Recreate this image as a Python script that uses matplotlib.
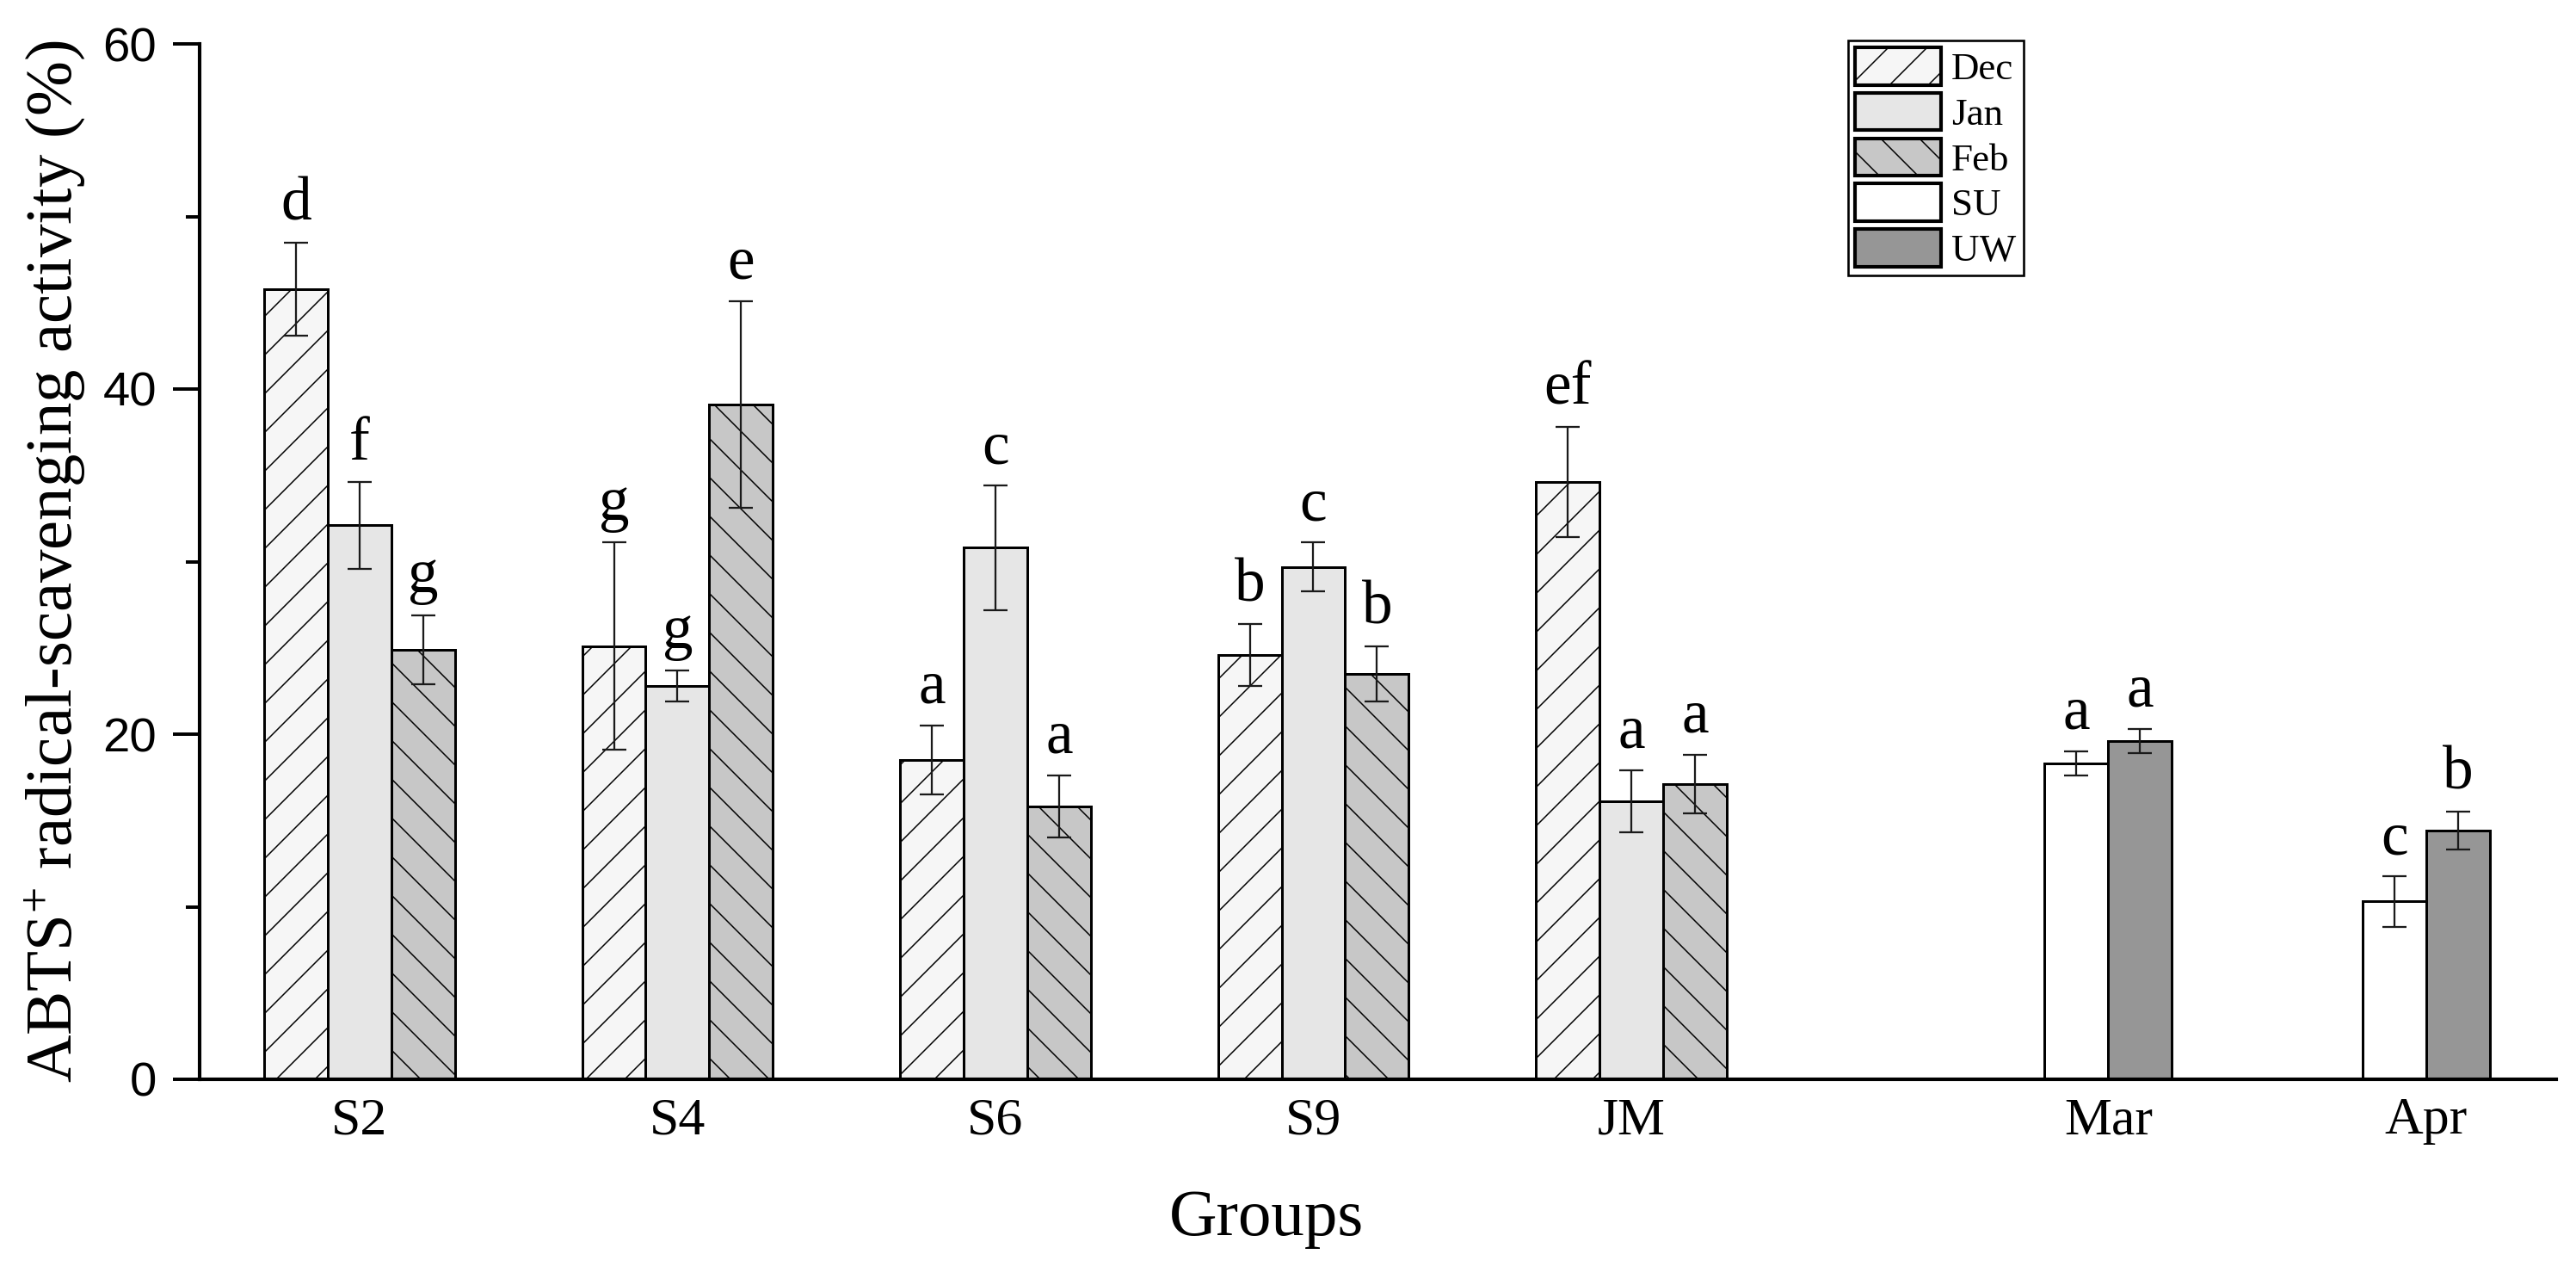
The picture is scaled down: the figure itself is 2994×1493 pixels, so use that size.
import numpy as np
import matplotlib
matplotlib.use("Agg")
import matplotlib.pyplot as plt
from matplotlib.ticker import MultipleLocator

# values
groups = ['S2', 'S4', 'S6', 'S9', 'JM', 'Mar', 'Apr']

dec_mean = [45.8, 25.1, 18.5, 24.6, 34.6]
dec_err = [2.7, 6.0, 2.0, 1.8, 3.2]
dec_sig = ['d', 'g', 'a', 'b', 'ef']

jan_mean = [32.1, 22.8, 30.8, 29.7, 16.1]
jan_err = [2.5, 0.9, 3.6, 1.4, 1.8]
jan_sig = ['f', 'g', 'c', 'c', 'a']

feb_mean = [24.9, 39.1, 15.8, 23.5, 17.1]
feb_err = [2.0, 6.0, 1.8, 1.6, 1.7]
feb_sig = ['g', 'e', 'a', 'b', 'a']

su_mean = [18.3, 10.3]
su_err = [0.7, 1.45]
su_sig = ['a', 'c']

uw_mean = [19.6, 14.4]
uw_err = [0.7, 1.1]
uw_sig = ['a', 'b']

plt.rcParams['font.family'] = ['Liberation Serif', 'DejaVu Serif']
plt.rcParams['mathtext.fontset'] = 'custom'
plt.rcParams['mathtext.rm'] = 'Liberation Serif'
plt.rcParams['mathtext.default'] = 'regular'
plt.rcParams['hatch.linewidth'] = 0.8

DPI = 135
fig = plt.figure(figsize=(2994 / DPI, 1493 / DPI), dpi=DPI)
ax = fig.add_axes([232 / 2994, 1 - 1254 / 1493, 2739 / 2994, 1203 / 1493])

# group positions: 5 sampling groups, then a wider gap before Mar / Apr
pos = np.r_[np.arange(5), np.arange(2) + 5.5]
w = 0.2

series = [
    # x offset, positions, means, errors, letters, face, hatch, label
    (-w, pos[:5], dec_mean, dec_err, dec_sig, '#f6f6f6', '/', 'Dec'),
    (0.0, pos[:5], jan_mean, jan_err, jan_sig, '#e6e6e6', None, 'Jan'),
    (w, pos[:5], feb_mean, feb_err, feb_sig, '#c7c7c7', '\\', 'Feb'),
    (-w / 2, pos[5:], su_mean, su_err, su_sig, '#ffffff', None, 'SU'),
    (w / 2, pos[5:], uw_mean, uw_err, uw_sig, '#969696', None, 'UW'),
]

for off, p, m, e, sig, face, hatch, lab in series:
    x = p + off
    ax.bar(x, m, width=w, color=face, edgecolor='black', linewidth=1.6,
           hatch=hatch, label=lab, zorder=1)
    ax.errorbar(x, m, yerr=e, fmt='none', ecolor='#1a1a1a', elinewidth=1.2,
                capsize=7.7, capthick=1.2, zorder=2)
    for xi, mi, ei, s in zip(x, m, e, sig):
        ax.annotate(s, (xi, mi + ei), xytext=(0, 14), textcoords='offset points',
                    ha='center', va='baseline', fontsize=38)

ax.set_xlim(-0.503, 6.909)
ax.set_ylim(0, 60)
ax.set_xticks(pos)
ax.set_xticklabels(groups)
ax.yaxis.set_major_locator(MultipleLocator(20))
ax.yaxis.set_minor_locator(MultipleLocator(10))

for side in ['top', 'right']:
    ax.spines[side].set_visible(False)
for side in ['left', 'bottom']:
    ax.spines[side].set_linewidth(2.2)

ax.tick_params(axis='x', length=0, pad=11, labelsize=33)
ax.tick_params(axis='y', which='major', direction='out', length=16.5, width=2.1,
               pad=10, labelsize=30, labelfontfamily='Liberation Sans')
ax.tick_params(axis='y', which='minor', direction='out', length=8.5, width=2.1)

ax.set_ylabel('ABTS$^{+}$ radical-scavenging activity (%)', fontsize=41)
ax.yaxis.set_label_coords(-0.0475, 0.5)

fig.text(1472 / 2994, 1 - 1435 / 1493, 'Groups', ha='center', va='baseline',
         fontsize=41)

leg = ax.legend(loc='upper left', bbox_to_anchor=(2148 / 2994, 1 - 47 / 1493),
                bbox_transform=fig.transFigure, borderaxespad=0, borderpad=0.18,
                fontsize=24, handlelength=2.22, handleheight=1.11,
                labelspacing=0.15, handletextpad=0.27, fancybox=False,
                framealpha=1, edgecolor='black')
leg.get_frame().set_linewidth(1.4)
for h in leg.legend_handles:
    h.set_linewidth(2.2)

fig.savefig('out.png', dpi=DPI)
